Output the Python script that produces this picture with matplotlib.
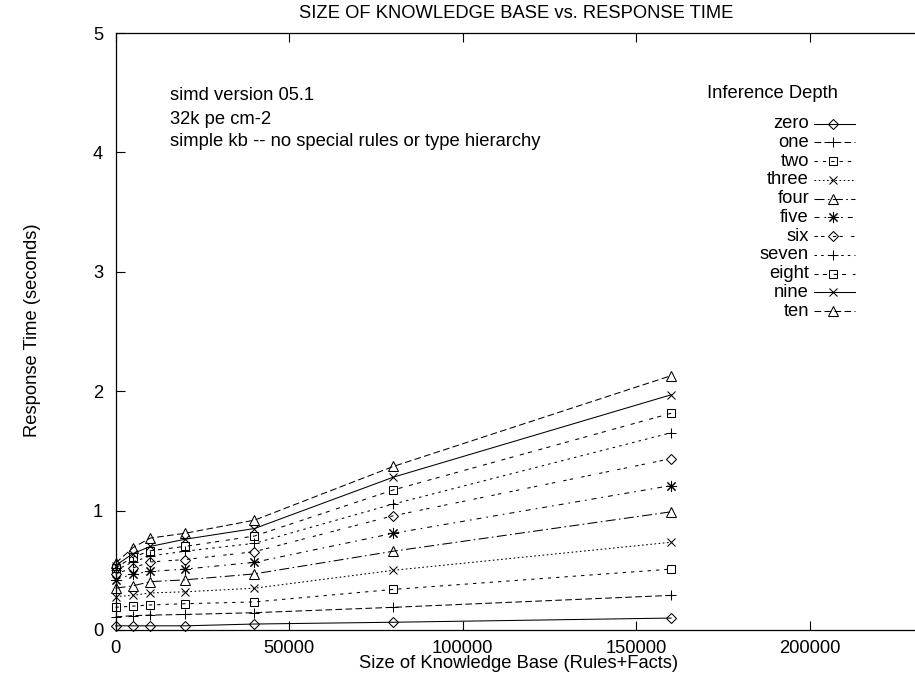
import matplotlib
matplotlib.use("Agg")
import matplotlib.pyplot as plt
from matplotlib.lines import Line2D

plt.rcParams['font.family'] = ['Liberation Sans', 'DejaVu Sans']
plt.rcParams['lines.scale_dashes'] = False

# ---------------- data ----------------
kb_size = [0, 5000, 10000, 20000, 40000, 80000, 160000]
depth_names = ["zero", "one", "two", "three", "four", "five",
               "six", "seven", "eight", "nine", "ten"]
zero  = [0.035, 0.035, 0.035, 0.035, 0.05, 0.065, 0.10]
one   = [0.11, 0.12, 0.125, 0.13, 0.145, 0.19, 0.29]
two   = [0.19, 0.20, 0.21, 0.22, 0.235, 0.34, 0.51]
three = [0.28, 0.29, 0.31, 0.32, 0.35, 0.50, 0.735]
four  = [0.35, 0.37, 0.405, 0.42, 0.47, 0.66, 0.99]
five  = [0.42, 0.47, 0.49, 0.51, 0.567, 0.81, 1.21]
six   = [0.47, 0.52, 0.57, 0.59, 0.656, 0.957, 1.435]
seven = [0.50, 0.57, 0.62, 0.66, 0.726, 1.055, 1.652]
eight = [0.52, 0.61, 0.664, 0.70, 0.787, 1.173, 1.815]
nine  = [0.54, 0.64, 0.70, 0.76, 0.85, 1.28, 1.97]
ten   = [0.56, 0.69, 0.77, 0.81, 0.92, 1.37, 2.13]
series = [zero, one, two, three, four, five, six, seven, eight, nine, ten]
x_ticks = [0, 50000, 100000, 150000, 200000]
y_ticks = [0, 1, 2, 3, 4, 5]

# ---------------- styles ----------------
u = 1.2
dash_patterns = [
    None,
    (4, 2),
    (2, 3),
    (1, 1.5),
    (6, 2, 1, 2),
    (3, 3, 1, 3),
    (2, 2, 2, 5),
    (1.5, 2.5),
    (2.5, 2.5, 2.5, 4),
]
markers = [('D', 5.0), ('+', 7.5), ('s', 5.5), ('x', 6.0), ('^', 6.5), ((8, 2, 0), 8.0)]

def style(i):
    d = dash_patterns[i % 9]
    ls = '-' if d is None else (0, tuple(v * u for v in d))
    m, ms = markers[i % 6]
    return ls, m, ms

W, H = 915, 679
fig = plt.figure(figsize=(W / 100, H / 100), dpi=100)

def fx(px):
    return px / W

def fy(py):
    return 1 - py / H

x0_px, y0_px, ytop_px = 115.6, 630.0, 33.0
px_per_unit_x = 173.6 / 50000
xmax = 250000
ax = fig.add_axes([fx(x0_px), fy(y0_px), xmax * px_per_unit_x / W, (y0_px - ytop_px) / H])
ax.set_xlim(0, xmax)
ax.set_ylim(0, 5)

lw = 0.75
for i, ys in enumerate(series):
    ls, m, ms = style(i)
    ax.plot(kb_size, ys, color='black', linewidth=lw, linestyle=ls,
            marker=m, markersize=ms, markerfacecolor='none',
            markeredgecolor='black', markeredgewidth=0.75, clip_on=False)

fs = 13.2
ax.set_xticks(x_ticks)
ax.set_xticklabels([str(v) for v in x_ticks])
ax.set_yticks(y_ticks)
ax.set_yticklabels([str(v) for v in y_ticks])
ax.tick_params(axis='both', direction='in', length=6.5, width=0.8,
               labelsize=fs, color='black')
ax.tick_params(axis='x', top=True, pad=7)
ax.tick_params(axis='y', right=False, pad=9)
for s in ax.spines.values():
    s.set_linewidth(0.9)
ax.spines['right'].set_visible(False)

# texts
fig.text(fx(516), fy(14), "SIZE OF KNOWLEDGE BASE vs. RESPONSE TIME",
         ha='center', va='center', fontsize=fs)
fig.text(fx(519), fy(664), "Size of Knowledge Base (Rules+Facts)",
         ha='center', va='center', fontsize=fs)
fig.text(fx(33), fy(330), "Response Time (seconds)", rotation=90,
         ha='center', va='center', fontsize=fs)
for txt, yy in [("simd version 05.1", 96), ("32k pe cm-2", 119),
                ("simple kb -- no special rules or type hierarchy", 142)]:
    fig.text(fx(170), fy(yy), txt, ha='left', va='center', fontsize=fs)

# legend
fig.text(fx(707), fy(93), "Inference Depth", ha='left', va='center', fontsize=fs)
for i, name in enumerate(depth_names):
    yy = 123.5 + i * 18.77
    fig.text(fx(809), fy(yy), name, ha='right', va='center', fontsize=fs)
    ls, m, ms = style(i)
    fig.add_artist(Line2D([fx(814), fx(855)], [fy(yy), fy(yy)], transform=fig.transFigure,
                          color='black', linewidth=lw, linestyle=ls))
    fig.add_artist(Line2D([fx(833)], [fy(yy)], transform=fig.transFigure,
                          marker=m, markersize=ms, markerfacecolor='none',
                          markeredgecolor='black', markeredgewidth=0.75, linestyle='none'))

fig.savefig("out.png", dpi=100)
